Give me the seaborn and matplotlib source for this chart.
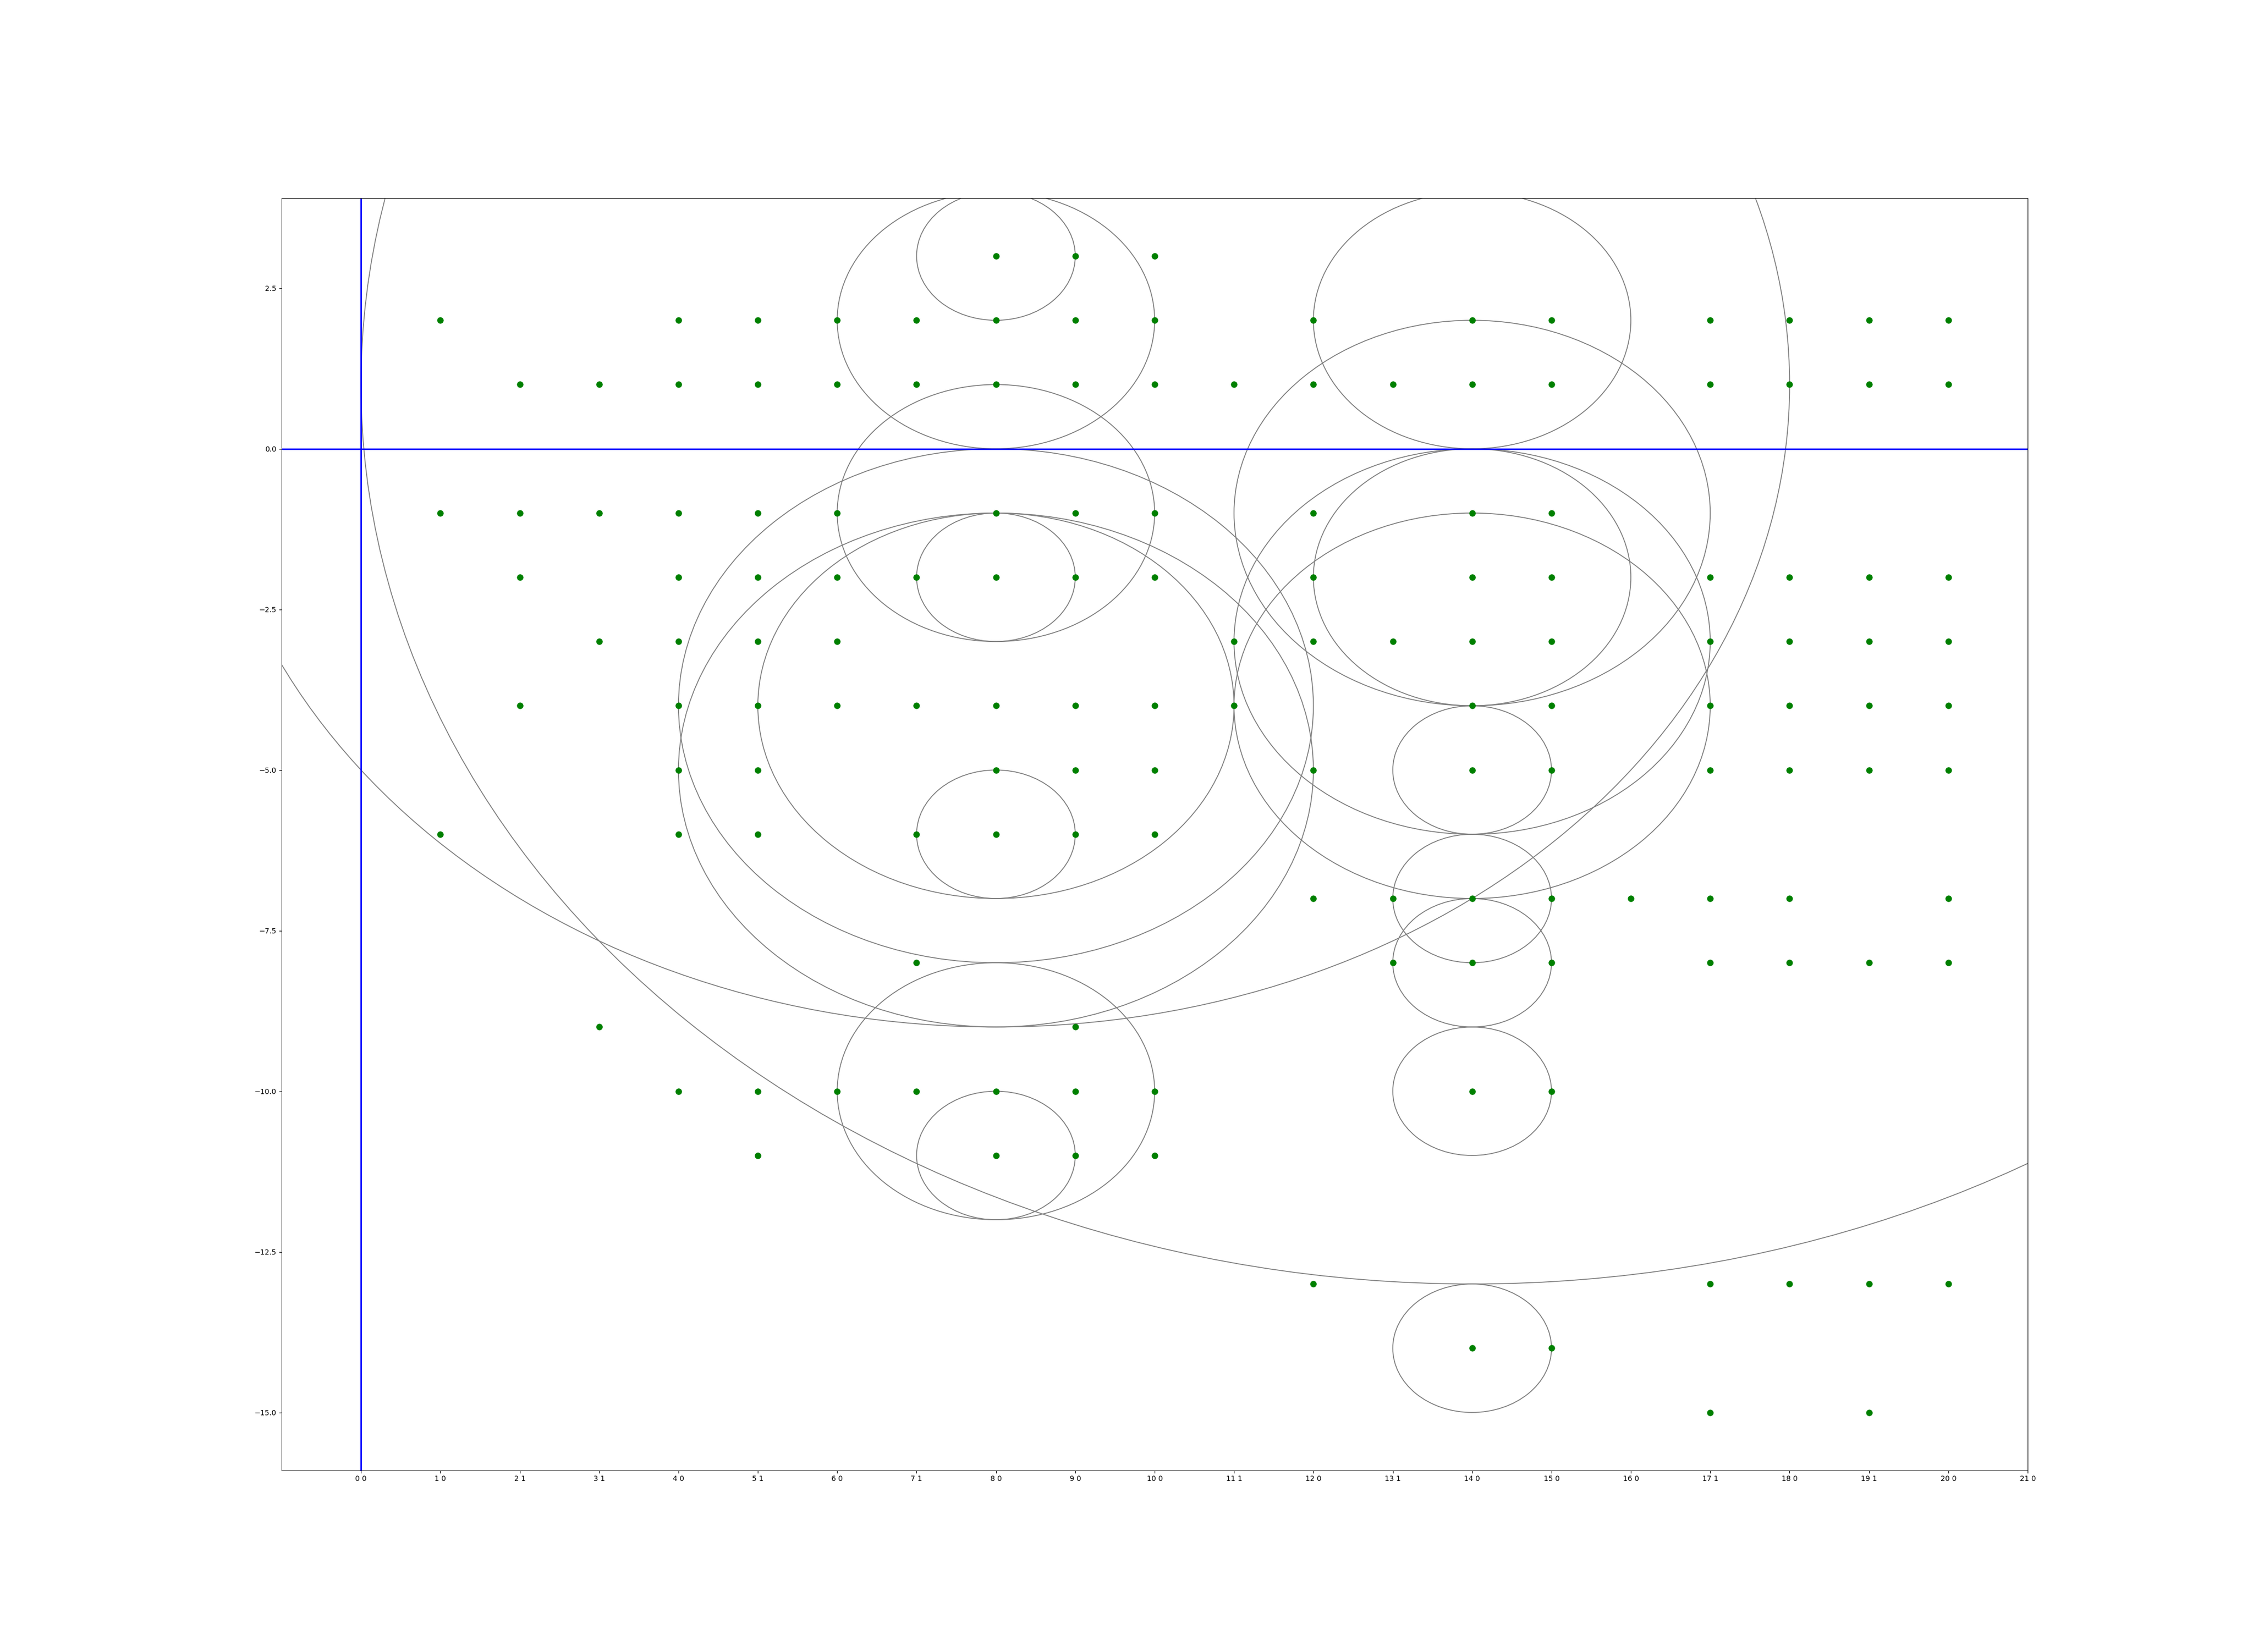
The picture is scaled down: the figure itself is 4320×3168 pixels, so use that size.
import numpy as np
import pandas as pd
import matplotlib
matplotlib.use('Agg')
import matplotlib.pyplot as plt
import seaborn as sns
from matplotlib.patches import Circle

# grid points, one list of x values per row
row_y = [3, 2, 1, -1, -2, -3, -4, -5, -6, -7, -8, -9, -10, -11, -13, -14, -15]
row_x = [
    [8, 9, 10],
    [1, 4, 5, 6, 7, 8, 9, 10, 12, 14, 15, 17, 18, 19, 20],
    [2, 3, 4, 5, 6, 7, 8, 9, 10, 11, 12, 13, 14, 15, 17, 18, 19, 20],
    [1, 2, 3, 4, 5, 6, 8, 9, 10, 12, 14, 15],
    [2, 4, 5, 6, 7, 8, 9, 10, 12, 14, 15, 17, 18, 19, 20],
    [3, 4, 5, 6, 11, 12, 13, 14, 15, 17, 18, 19, 20],
    [2, 4, 5, 6, 7, 8, 9, 10, 11, 14, 15, 17, 18, 19, 20],
    [4, 5, 8, 9, 10, 12, 14, 15, 17, 18, 19, 20],
    [1, 4, 5, 7, 8, 9, 10],
    [12, 13, 14, 15, 16, 17, 18, 20],
    [7, 13, 14, 15, 17, 18, 19, 20],
    [3, 9],
    [4, 5, 6, 7, 8, 9, 10, 14, 15],
    [5, 8, 9, 10],
    [12, 17, 18, 19, 20],
    [14, 15],
    [17, 19],
]

# circles: centre and radius
circle_x = [8, 8, 8, 8, 8, 8, 8, 8, 8, 8, 8,
            14, 14, 14, 14, 14, 14, 14, 14, 14, 14, 14]
circle_y = [3, 2, -1, -2, -4, -4, -5, -6, -10, -11, 1,
            1, 2, -1, -2, -3, -4, -5, -7, -8, -10, -14]
circle_r = [1, 2, 2, 1, 3, 4, 4, 1, 2, 1, 10,
            14, 2, 3, 2, 3, 3, 1, 1, 1, 1, 1]

tick_pos = list(range(22))
tick_flag = [0, 0, 1, 1, 0, 1, 0, 1, 0, 0, 0, 1, 0, 1, 0, 0, 0, 1, 0, 1, 0, 0]
tick_labels = [f"{p} {f}" for p, f in zip(tick_pos, tick_flag)]

pts = pd.DataFrame({
    'x': [x for xs in row_x for x in xs],
    'y': [y for y, xs in zip(row_y, row_x) for _ in xs],
})

fig, ax = plt.subplots(figsize=(43.2, 31.68), dpi=100)

for cx, cy, r in zip(circle_x, circle_y, circle_r):
    ax.add_patch(Circle((cx, cy), r, fill=False, edgecolor='grey', linewidth=1.3))

sns.scatterplot(data=pts, x='x', y='y', color='green', s=80, linewidth=0,
                zorder=3, legend=False, ax=ax)

ax.axhline(0, color='blue', linewidth=2)
ax.axvline(0, color='blue', linewidth=2)

ax.set_xlim(-1, 21)
ax.set_ylim(-15.9, 3.9)
ax.set_xticks(tick_pos)
ax.set_xticklabels(tick_labels)
ax.set_xlabel('')
ax.set_ylabel('')

fig.savefig('out.png', dpi=100)
